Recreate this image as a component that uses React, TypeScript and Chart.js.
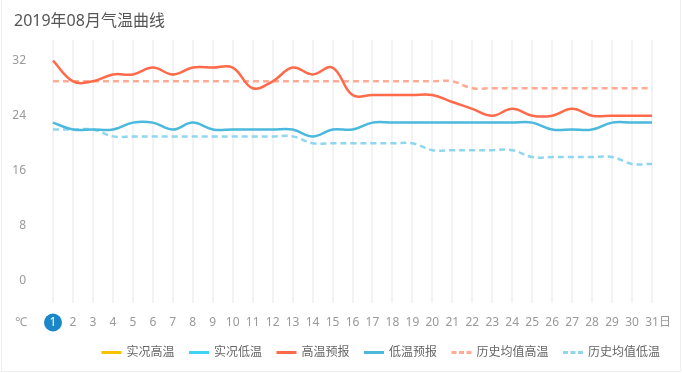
import React, { useEffect, useRef } from 'react';
import { Chart, registerables } from 'chart.js';

Chart.register(...registerables);

const FONT = '"Noto Sans", "Noto Sans CJK SC", sans-serif';

const days = ['1', '2', '3', '4', '5', '6', '7', '8', '9', '10', '11', '12', '13', '14', '15', '16', '17', '18', '19', '20', '21', '22', '23', '24', '25', '26', '27', '28', '29', '30', '31'];
const yTicks = [0, 8, 16, 24, 32];

const actualHigh: (number | null)[] = [];
const actualLow: (number | null)[] = [];
const highForecast = [32, 29, 29, 30, 30, 31, 30, 31, 31, 31, 28, 29, 31, 30, 31, 27, 27, 27, 27, 27, 26, 25, 24, 25, 24, 24, 25, 24, 24, 24, 24];
const lowForecast = [23, 22, 22, 22, 23, 23, 22, 23, 22, 22, 22, 22, 22, 21, 22, 22, 23, 23, 23, 23, 23, 23, 23, 23, 23, 22, 22, 22, 23, 23, 23];
const histHigh = [29, 29, 29, 29, 29, 29, 29, 29, 29, 29, 29, 29, 29, 29, 29, 29, 29, 29, 29, 29, 29, 28, 28, 28, 28, 28, 28, 28, 28, 28, 28];
const histLow = [22, 22, 22, 21, 21, 21, 21, 21, 21, 21, 21, 21, 21, 20, 20, 20, 20, 20, 20, 19, 19, 19, 19, 19, 18, 18, 18, 18, 18, 17, 17];

const decorPlugin = {
  id: 'decor',
  beforeDraw(chart: any) {
    const ctx = chart.ctx;
    ctx.save();
    // card border
    ctx.strokeStyle = '#eceef1';
    ctx.lineWidth = 1;
    ctx.beginPath();
    ctx.moveTo(1.5, 0);
    ctx.lineTo(1.5, 371.5);
    ctx.lineTo(680.5, 371.5);
    ctx.lineTo(680.5, 0);
    ctx.stroke();
    // title
    ctx.fillStyle = '#555';
    ctx.font = `16px ${FONT}`;
    ctx.textAlign = 'left';
    ctx.textBaseline = 'middle';
    ctx.fillText('2019年08月气温曲线', 14, 21);
    // highlighted day circle
    const xs = chart.scales.x;
    const cx = xs.getPixelForValue(0);
    ctx.fillStyle = '#1b87c9';
    ctx.beginPath();
    ctx.arc(cx, 322.5, 9, 0, Math.PI * 2);
    ctx.fill();
    ctx.restore();
  },
  afterDraw(chart: any) {
    const ctx = chart.ctx;
    ctx.save();
    ctx.fillStyle = '#999';
    ctx.font = `12px ${FONT}`;
    ctx.textBaseline = 'middle';
    ctx.textAlign = 'center';
    ctx.fillText('℃', 21, 322.5);
    ctx.textAlign = 'left';
    ctx.fillText('日', 659, 322.5);

    // legend
    const ds = chart.data.datasets;
    const iconW = 20;
    const gapIcon = 5;
    const gapItem = 14.5;
    const widths = ds.map((d: any) => ctx.measureText(d.label).width);
    let total = 0;
    widths.forEach((w: number, i: number) => {
      total += iconW + gapIcon + w + (i < widths.length - 1 ? gapItem : 0);
    });
    let x = 660 - total;
    const y = 352.5;
    ds.forEach((d: any, i: number) => {
      ctx.strokeStyle = d.borderColor;
      ctx.lineWidth = 3;
      ctx.setLineDash(d.borderDash && d.borderDash.length ? [5, 2.5] : []);
      ctx.beginPath();
      ctx.moveTo(x, y);
      ctx.lineTo(x + iconW, y);
      ctx.stroke();
      ctx.setLineDash([]);
      ctx.fillStyle = '#666';
      ctx.fillText(d.label, x + iconW + gapIcon, y);
      x += iconW + gapIcon + widths[i] + gapItem;
    });
    ctx.restore();
  },
};

export default function App() {
  const ref = useRef<HTMLCanvasElement>(null);

  useEffect(() => {
    document.body.style.margin = '0';
    const canvas = ref.current;
    if (!canvas) return;
    const base = {
      pointRadius: 0,
      pointHoverRadius: 0,
      tension: 0.4,
      fill: false,
      borderWidth: 2.5,
    };
    const chart = new Chart(canvas, {
      type: 'line',
      data: {
        labels: days,
        datasets: [
          { ...base, label: '实况高温', data: actualHigh, borderColor: '#f5c400', backgroundColor: '#f5c400' },
          { ...base, label: '实况低温', data: actualLow, borderColor: '#3fd3f3', backgroundColor: '#3fd3f3' },
          { ...base, label: '高温预报', data: highForecast, borderColor: '#ff6a4a', backgroundColor: '#ff6a4a' },
          { ...base, label: '低温预报', data: lowForecast, borderColor: '#4ab9dc', backgroundColor: '#4ab9dc' },
          { ...base, label: '历史均值高温', data: histHigh, borderColor: '#ffab95', backgroundColor: '#ffab95', borderDash: [6, 4] },
          { ...base, label: '历史均值低温', data: histLow, borderColor: '#8fd6ee', backgroundColor: '#8fd6ee', borderDash: [6, 4] },
        ],
      },
      options: {
        responsive: false,
        animation: false,
        devicePixelRatio: 1,
        layout: { padding: { top: 40, right: 30, left: 0, bottom: 0 } },
        plugins: {
          legend: { display: false },
          tooltip: { enabled: false },
          title: { display: false },
        },
        scales: {
          x: {
            type: 'category',
            offset: false,
            grid: { color: '#f3f3f3', lineWidth: 2, drawTicks: false },
            border: { display: false },
            ticks: {
              color: (c: any) => (c.index === 0 ? '#ffffff' : '#999'),
              font: { size: 12, family: FONT },
              padding: 12,
              maxRotation: 0,
              autoSkip: false,
            },
            afterFit: (s: any) => {
              s.height = 70;
            },
          },
          y: {
            min: -3.2,
            max: 35,
            grid: { display: false, drawTicks: false },
            border: { display: false },
            afterBuildTicks: (s: any) => {
              s.ticks = yTicks.map((v) => ({ value: v }));
            },
            ticks: {
              color: '#999',
              font: { size: 12, family: FONT },
              padding: 27,
            },
            afterFit: (s: any) => {
              s.width = 53;
            },
          },
        },
      },
      plugins: [decorPlugin],
    });
    return () => chart.destroy();
  }, []);

  return (
    <div style={{ width: 682, height: 373 }}>
      <canvas ref={ref} width={682} height={373} style={{ display: 'block' }} />
    </div>
  );
}
